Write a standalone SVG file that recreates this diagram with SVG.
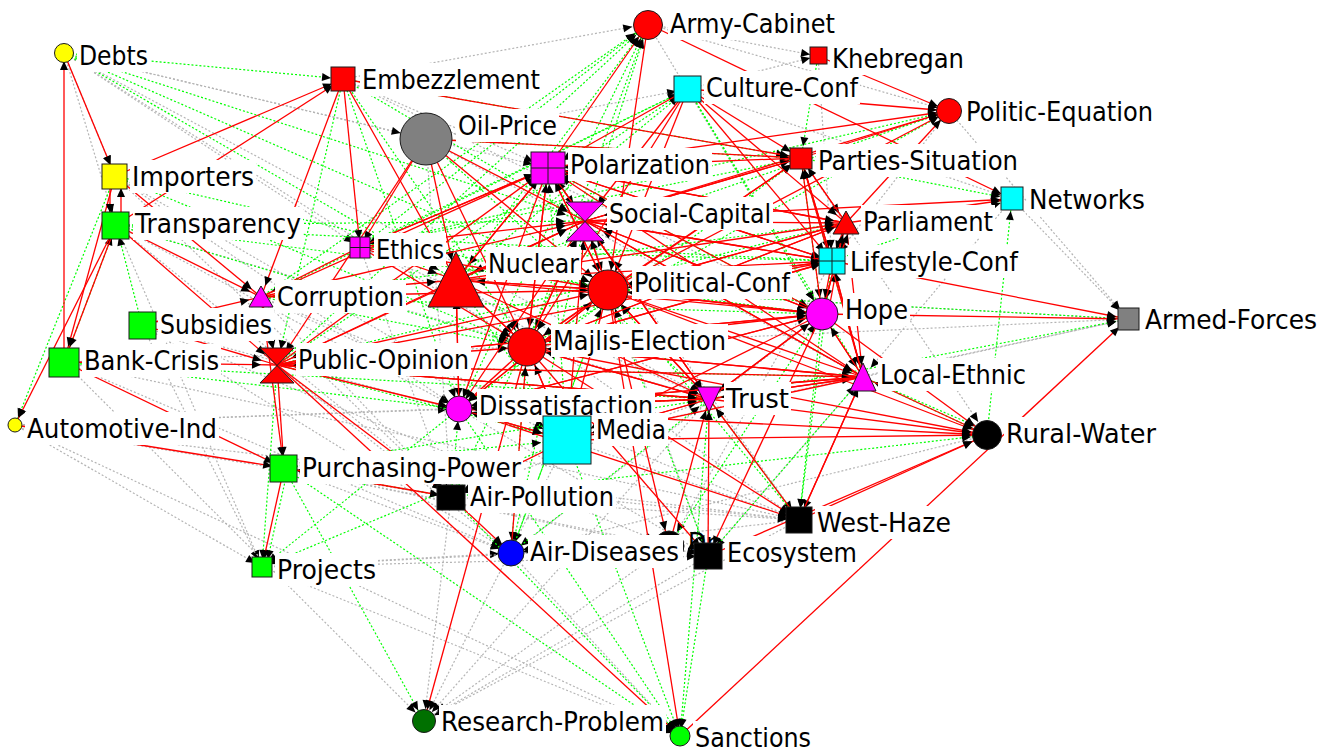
<svg xmlns="http://www.w3.org/2000/svg" width="1327" height="751" viewBox="0 0 1327 751">
<style>
.r{stroke:#f00;stroke-width:1.3}
.g{stroke:#0f0;stroke-width:1.2;stroke-dasharray:2 2}
.k{stroke:#b4b4b4;stroke-width:1.2;stroke-dasharray:2 2}
.a8{marker-end:url(#a8)}.a12{marker-end:url(#a12)}.a16{marker-end:url(#a16)}.a20{marker-end:url(#a20)}.a26{marker-end:url(#a26)}
.lb{fill:#fff}
text{font-family:"DejaVu Sans","Liberation Sans",sans-serif;font-size:27px;fill:#000}
.n{stroke:#1a1a1a;stroke-width:1}
.x{stroke:#1a1a1a;stroke-width:1;fill:none}
</style>
<defs>
<marker id="a8" markerUnits="userSpaceOnUse" orient="auto" refX="17" refY="0" markerWidth="1" markerHeight="1" overflow="visible"><path d="M0,-4 L9,0 L0,4z" fill="#000"/></marker>
<marker id="a12" markerUnits="userSpaceOnUse" orient="auto" refX="21" refY="0" markerWidth="1" markerHeight="1" overflow="visible"><path d="M0,-4 L9,0 L0,4z" fill="#000"/></marker>
<marker id="a16" markerUnits="userSpaceOnUse" orient="auto" refX="25" refY="0" markerWidth="1" markerHeight="1" overflow="visible"><path d="M0,-4 L9,0 L0,4z" fill="#000"/></marker>
<marker id="a20" markerUnits="userSpaceOnUse" orient="auto" refX="29" refY="0" markerWidth="1" markerHeight="1" overflow="visible"><path d="M0,-4 L9,0 L0,4z" fill="#000"/></marker>
<marker id="a26" markerUnits="userSpaceOnUse" orient="auto" refX="35" refY="0" markerWidth="1" markerHeight="1" overflow="visible"><path d="M0,-4 L9,0 L0,4z" fill="#000"/></marker>
</defs>
<rect width="1327" height="751" fill="#fff"/>
<g id="connectors">
<g id="gray-edges">
<line class="k a12" x1="64" y1="53" x2="116" y2="225"/>
<line class="k a20" x1="64" y1="53" x2="527" y2="347"/>
<line class="k a16" x1="64" y1="53" x2="548" y2="168"/>
<line class="k a8" x1="64" y1="53" x2="360" y2="247"/>
<line class="k a12" x1="64" y1="53" x2="709" y2="399"/>
<line class="k a26" x1="64" y1="53" x2="426" y2="139"/>
<line class="k a16" x1="343" y1="79" x2="648" y2="24"/>
<line class="k a8" x1="648" y1="24" x2="818" y2="56"/>
<line class="k a12" x1="648" y1="24" x2="949" y2="111"/>
<line class="k a8" x1="688" y1="89" x2="818" y2="56"/>
<line class="k a12" x1="949" y1="111" x2="1128" y2="319"/>
<line class="k a12" x1="1012" y1="199" x2="1128" y2="319"/>
<line class="k a12" x1="608" y1="290" x2="1128" y2="319"/>
<line class="k a12" x1="527" y1="347" x2="1128" y2="319"/>
<line class="k a12" x1="863" y1="377" x2="1128" y2="319"/>
<line class="k a12" x1="567" y1="440" x2="1128" y2="319"/>
<line class="k a8" x1="116" y1="225" x2="262" y2="567"/>
<line class="k a8" x1="142" y1="325" x2="262" y2="567"/>
<line class="k a8" x1="15" y1="425" x2="262" y2="567"/>
<line class="k a12" x1="64" y1="362" x2="424" y2="721"/>
<line class="k a12" x1="262" y1="567" x2="511" y2="553"/>
<line class="k a8" x1="262" y1="567" x2="680" y2="736"/>
<line class="k a12" x1="567" y1="440" x2="424" y2="721"/>
<line class="k a12" x1="709" y1="399" x2="424" y2="721"/>
<line class="k a12" x1="799" y1="520" x2="424" y2="721"/>
<line class="k a12" x1="451" y1="497" x2="424" y2="721"/>
<line class="k a12" x1="708" y1="556" x2="424" y2="721"/>
<line class="k a8" x1="15" y1="425" x2="680" y2="736"/>
<line class="k a12" x1="64" y1="362" x2="511" y2="553"/>
<line class="k a26" x1="115" y1="176" x2="567" y2="440"/>
<line class="k a12" x1="115" y1="176" x2="459" y2="409"/>
<line class="k a26" x1="142" y1="325" x2="567" y2="440"/>
<line class="k a20" x1="64" y1="362" x2="527" y2="347"/>
<line class="k a12" x1="15" y1="425" x2="459" y2="409"/>
<line class="k a12" x1="15" y1="425" x2="709" y2="399"/>
<line class="k a12" x1="261" y1="297" x2="451" y2="497"/>
<line class="k a12" x1="360" y1="247" x2="451" y2="497"/>
<line class="k a12" x1="426" y1="139" x2="451" y2="497"/>
<line class="k a12" x1="456" y1="280" x2="799" y2="520"/>
<line class="k a12" x1="548" y1="168" x2="799" y2="520"/>
<line class="k a16" x1="801" y1="158" x2="987" y2="435"/>
<line class="k a12" x1="818" y1="56" x2="832" y2="261"/>
<line class="k a12" x1="688" y1="89" x2="1012" y2="199"/>
<line class="k a12" x1="949" y1="111" x2="832" y2="261"/>
<line class="k a12" x1="585" y1="221" x2="708" y2="556"/>
<line class="k a12" x1="822" y1="314" x2="511" y2="553"/>
<line class="k a16" x1="832" y1="261" x2="669" y2="546"/>
<line class="k a12" x1="863" y1="377" x2="708" y2="556"/>
<line class="k a12" x1="709" y1="399" x2="451" y2="497"/>
<line class="k a12" x1="459" y1="409" x2="708" y2="556"/>
<line class="k a12" x1="284" y1="468" x2="799" y2="520"/>
<line class="k a12" x1="277" y1="365" x2="511" y2="553"/>
<line class="k a12" x1="116" y1="225" x2="459" y2="409"/>
<line class="k a16" x1="343" y1="79" x2="548" y2="168"/>
<line class="k a12" x1="426" y1="139" x2="688" y2="89"/>
<line class="k a12" x1="548" y1="168" x2="832" y2="261"/>
<line class="k a16" x1="648" y1="24" x2="822" y2="314"/>
<line class="k a12" x1="1012" y1="199" x2="863" y2="377"/>
<line class="k a12" x1="987" y1="435" x2="511" y2="553"/>
<line class="k a8" x1="511" y1="553" x2="680" y2="736"/>
<line class="k a12" x1="64" y1="53" x2="115" y2="176"/>
<line class="k a16" x1="669" y1="546" x2="424" y2="721"/>
<line class="k a12" x1="799" y1="520" x2="511" y2="553"/>
<line class="k a12" x1="15" y1="425" x2="451" y2="497"/>
<line class="k a12" x1="15" y1="425" x2="799" y2="520"/>
<line class="k a12" x1="64" y1="362" x2="799" y2="520"/>
<line class="k a12" x1="142" y1="325" x2="511" y2="553"/>
<line class="k a12" x1="116" y1="225" x2="451" y2="497"/>
<line class="k a12" x1="262" y1="567" x2="708" y2="556"/>
<line class="k a16" x1="262" y1="567" x2="669" y2="546"/>
<line class="k a16" x1="284" y1="468" x2="669" y2="546"/>
<line class="k a12" x1="284" y1="468" x2="708" y2="556"/>
<line class="k a16" x1="142" y1="325" x2="669" y2="546"/>
<line class="k a12" x1="115" y1="176" x2="451" y2="497"/>
<line class="k a12" x1="261" y1="297" x2="799" y2="520"/>
<line class="k a12" x1="360" y1="247" x2="709" y2="399"/>
<line class="k a12" x1="426" y1="139" x2="863" y2="377"/>
<line class="k a16" x1="343" y1="79" x2="822" y2="314"/>
<line class="k a12" x1="116" y1="225" x2="709" y2="399"/>
<line class="k a12" x1="451" y1="497" x2="799" y2="520"/>
<line class="k a12" x1="567" y1="440" x2="799" y2="520"/>
<line class="k a12" x1="284" y1="468" x2="511" y2="553"/>
<line class="k a26" x1="261" y1="297" x2="567" y2="440"/>
</g>
<g id="green-edges">
<line class="g a20" x1="64" y1="53" x2="585" y2="221"/>
<line class="g a20" x1="64" y1="53" x2="608" y2="290"/>
<line class="g a20" x1="64" y1="53" x2="456" y2="280"/>
<line class="g a8" x1="115" y1="176" x2="15" y2="425"/>
<line class="g a16" x1="343" y1="79" x2="277" y2="365"/>
<line class="g a12" x1="343" y1="79" x2="459" y2="409"/>
<line class="g a16" x1="360" y1="247" x2="648" y2="24"/>
<line class="g a16" x1="456" y1="280" x2="648" y2="24"/>
<line class="g a16" x1="261" y1="297" x2="648" y2="24"/>
<line class="g a16" x1="277" y1="365" x2="648" y2="24"/>
<line class="g a16" x1="527" y1="347" x2="648" y2="24"/>
<line class="g a16" x1="585" y1="221" x2="648" y2="24"/>
<line class="g a16" x1="459" y1="409" x2="648" y2="24"/>
<line class="g a12" x1="277" y1="365" x2="688" y2="89"/>
<line class="g a12" x1="456" y1="280" x2="688" y2="89"/>
<line class="g a12" x1="261" y1="297" x2="688" y2="89"/>
<line class="g a12" x1="360" y1="247" x2="688" y2="89"/>
<line class="g a12" x1="818" y1="56" x2="801" y2="158"/>
<line class="g a12" x1="456" y1="280" x2="949" y2="111"/>
<line class="g a12" x1="360" y1="247" x2="949" y2="111"/>
<line class="g a12" x1="527" y1="347" x2="949" y2="111"/>
<line class="g a12" x1="801" y1="158" x2="1012" y2="199"/>
<line class="g a12" x1="832" y1="261" x2="1012" y2="199"/>
<line class="g a12" x1="987" y1="435" x2="1012" y2="199"/>
<line class="g a12" x1="709" y1="399" x2="1128" y2="319"/>
<line class="g a16" x1="451" y1="497" x2="987" y2="435"/>
<line class="g a8" x1="277" y1="365" x2="262" y2="567"/>
<line class="g a8" x1="459" y1="409" x2="262" y2="567"/>
<line class="g a8" x1="567" y1="440" x2="262" y2="567"/>
<line class="g a8" x1="288" y1="468" x2="266" y2="567"/>
<line class="g a12" x1="284" y1="468" x2="424" y2="721"/>
<line class="g a8" x1="284" y1="468" x2="680" y2="736"/>
<line class="g a8" x1="451" y1="497" x2="680" y2="736"/>
<line class="g a8" x1="459" y1="409" x2="680" y2="736"/>
<line class="g a8" x1="567" y1="440" x2="680" y2="736"/>
<line class="g a8" x1="708" y1="556" x2="680" y2="736"/>
<line class="g a8" x1="709" y1="399" x2="680" y2="736"/>
<line class="g a12" x1="832" y1="261" x2="799" y2="520"/>
<line class="g a12" x1="822" y1="314" x2="799" y2="520"/>
<line class="g a12" x1="608" y1="290" x2="511" y2="553"/>
<line class="g a12" x1="585" y1="221" x2="511" y2="553"/>
<line class="g a12" x1="527" y1="347" x2="511" y2="553"/>
<line class="g a12" x1="451" y1="497" x2="284" y2="468"/>
<line class="g a12" x1="709" y1="399" x2="459" y2="409"/>
<line class="g a12" x1="142" y1="325" x2="116" y2="225"/>
<line class="g a12" x1="64" y1="362" x2="116" y2="225"/>
<line class="g a20" x1="116" y1="225" x2="585" y2="221"/>
<line class="g a20" x1="116" y1="225" x2="527" y2="347"/>
<line class="g a20" x1="115" y1="176" x2="608" y2="290"/>
<line class="g a20" x1="115" y1="176" x2="527" y2="347"/>
<line class="g a20" x1="343" y1="79" x2="585" y2="221"/>
<line class="g a20" x1="343" y1="79" x2="527" y2="347"/>
<line class="g a12" x1="426" y1="139" x2="709" y2="399"/>
<line class="g a16" x1="548" y1="168" x2="822" y2="314"/>
<line class="g a16" x1="688" y1="89" x2="822" y2="314"/>
<line class="g a12" x1="688" y1="89" x2="863" y2="377"/>
<line class="g a16" x1="801" y1="158" x2="822" y2="314"/>
<line class="g a12" x1="801" y1="158" x2="863" y2="377"/>
<line class="g a12" x1="277" y1="365" x2="863" y2="377"/>
<line class="g a12" x1="277" y1="365" x2="709" y2="399"/>
<line class="g a20" x1="261" y1="297" x2="527" y2="347"/>
<line class="g a12" x1="64" y1="362" x2="459" y2="409"/>
<line class="g a26" x1="277" y1="365" x2="567" y2="440"/>
<line class="g a26" x1="456" y1="280" x2="567" y2="440"/>
<line class="g a12" x1="608" y1="290" x2="1128" y2="319"/>
<line class="g a20" x1="799" y1="520" x2="608" y2="290"/>
<line class="g a20" x1="708" y1="556" x2="608" y2="290"/>
<line class="g a12" x1="511" y1="553" x2="709" y2="399"/>
<line class="g a12" x1="987" y1="435" x2="863" y2="377"/>
<line class="g a12" x1="451" y1="497" x2="459" y2="409"/>
<line class="g a12" x1="863" y1="377" x2="987" y2="431"/>
<line class="g a12" x1="64" y1="53" x2="343" y2="79"/>
<line class="g a16" x1="343" y1="79" x2="801" y2="158"/>
<line class="g a12" x1="360" y1="247" x2="832" y2="261"/>
<line class="g a16" x1="261" y1="297" x2="822" y2="314"/>
<line class="g a12" x1="277" y1="365" x2="846" y2="223"/>
<line class="g a12" x1="459" y1="409" x2="801" y2="158"/>
<line class="g a16" x1="567" y1="440" x2="548" y2="168"/>
<line class="g a20" x1="451" y1="497" x2="585" y2="221"/>
<line class="g a20" x1="511" y1="553" x2="608" y2="290"/>
<line class="g a12" x1="284" y1="468" x2="709" y2="399"/>
<line class="g a26" x1="284" y1="468" x2="567" y2="440"/>
<line class="g a12" x1="116" y1="225" x2="832" y2="261"/>
<line class="g a16" x1="116" y1="225" x2="822" y2="314"/>
<line class="g a12" x1="64" y1="362" x2="709" y2="399"/>
<line class="g a12" x1="426" y1="139" x2="801" y2="158"/>
<line class="g a12" x1="360" y1="247" x2="801" y2="158"/>
<line class="g a12" x1="261" y1="297" x2="846" y2="223"/>
<line class="g a12" x1="799" y1="520" x2="709" y2="399"/>
<line class="g a12" x1="708" y1="556" x2="863" y2="377"/>
<line class="g a12" x1="669" y1="546" x2="822" y2="314"/>
</g>
<g id="red-edges">
<line class="r a8" x1="64" y1="362" x2="64" y2="53"/>
<line class="r a12" x1="64" y1="53" x2="115" y2="176"/>
<line class="r a8" x1="116" y1="225" x2="15" y2="425"/>
<line class="r a16" x1="116" y1="225" x2="64" y2="362"/>
<line class="r a16" x1="115" y1="176" x2="64" y2="362"/>
<line class="r a12" x1="115" y1="176" x2="343" y2="79"/>
<line class="r a12" x1="116" y1="225" x2="343" y2="79"/>
<line class="r a8" x1="343" y1="79" x2="360" y2="247"/>
<line class="r a20" x1="343" y1="79" x2="456" y2="280"/>
<line class="r a12" x1="343" y1="79" x2="801" y2="158"/>
<line class="r a12" x1="110" y1="176" x2="110" y2="225"/>
<line class="r a12" x1="121" y1="225" x2="121" y2="176"/>
<line class="r a12" x1="116" y1="225" x2="261" y2="297"/>
<line class="r a16" x1="116" y1="225" x2="277" y2="365"/>
<line class="r a16" x1="142" y1="325" x2="277" y2="365"/>
<line class="r a16" x1="64" y1="362" x2="277" y2="365"/>
<line class="r a12" x1="64" y1="362" x2="284" y2="468"/>
<line class="r a12" x1="15" y1="425" x2="284" y2="468"/>
<line class="r a16" x1="261" y1="297" x2="277" y2="365"/>
<line class="r a12" x1="277" y1="365" x2="284" y2="468"/>
<line class="r a12" x1="284" y1="468" x2="451" y2="497"/>
<line class="r a20" x1="277" y1="365" x2="527" y2="347"/>
<line class="r a12" x1="277" y1="365" x2="459" y2="409"/>
<line class="r a20" x1="261" y1="297" x2="456" y2="280"/>
<line class="r a20" x1="360" y1="247" x2="456" y2="280"/>
<line class="r a20" x1="426" y1="139" x2="456" y2="280"/>
<line class="r a20" x1="426" y1="139" x2="585" y2="221"/>
<line class="r a20" x1="426" y1="139" x2="527" y2="347"/>
<line class="r a20" x1="426" y1="139" x2="608" y2="290"/>
<line class="r a12" x1="426" y1="139" x2="801" y2="158"/>
<line class="r a16" x1="548" y1="168" x2="648" y2="24"/>
<line class="r a20" x1="648" y1="24" x2="608" y2="290"/>
<line class="r a12" x1="648" y1="24" x2="1012" y2="199"/>
<line class="r a16" x1="688" y1="89" x2="548" y2="168"/>
<line class="r a20" x1="688" y1="89" x2="585" y2="221"/>
<line class="r a20" x1="688" y1="89" x2="608" y2="290"/>
<line class="r a12" x1="688" y1="89" x2="801" y2="158"/>
<line class="r a20" x1="688" y1="89" x2="527" y2="347"/>
<line class="r a12" x1="688" y1="89" x2="832" y2="261"/>
<line class="r a12" x1="818" y1="56" x2="949" y2="111"/>
<line class="r a12" x1="801" y1="158" x2="949" y2="111"/>
<line class="r a12" x1="585" y1="221" x2="949" y2="111"/>
<line class="r a12" x1="548" y1="168" x2="949" y2="111"/>
<line class="r a12" x1="608" y1="290" x2="949" y2="111"/>
<line class="r a12" x1="846" y1="223" x2="949" y2="111"/>
<line class="r a12" x1="585" y1="221" x2="801" y2="158"/>
<line class="r a12" x1="608" y1="290" x2="801" y2="158"/>
<line class="r a12" x1="527" y1="347" x2="801" y2="158"/>
<line class="r a12" x1="801" y1="158" x2="846" y2="223"/>
<line class="r a20" x1="548" y1="168" x2="585" y2="221"/>
<line class="r a20" x1="585" y1="221" x2="456" y2="280"/>
<line class="r a20" x1="585" y1="221" x2="608" y2="290"/>
<line class="r a20" x1="585" y1="221" x2="527" y2="347"/>
<line class="r a12" x1="585" y1="221" x2="846" y2="223"/>
<line class="r a12" x1="585" y1="221" x2="832" y2="261"/>
<line class="r a16" x1="585" y1="221" x2="822" y2="314"/>
<line class="r a12" x1="585" y1="221" x2="1012" y2="199"/>
<line class="r a20" x1="548" y1="168" x2="608" y2="290"/>
<line class="r a20" x1="548" y1="168" x2="527" y2="347"/>
<line class="r a8" x1="548" y1="168" x2="360" y2="247"/>
<line class="r a20" x1="456" y1="280" x2="608" y2="290"/>
<line class="r a20" x1="456" y1="280" x2="527" y2="347"/>
<line class="r a16" x1="456" y1="280" x2="277" y2="365"/>
<line class="r a12" x1="456" y1="280" x2="459" y2="409"/>
<line class="r a20" x1="608" y1="290" x2="527" y2="347"/>
<line class="r a16" x1="608" y1="290" x2="822" y2="314"/>
<line class="r a12" x1="608" y1="290" x2="832" y2="261"/>
<line class="r a12" x1="608" y1="290" x2="846" y2="223"/>
<line class="r a12" x1="608" y1="290" x2="709" y2="399"/>
<line class="r a12" x1="608" y1="290" x2="863" y2="377"/>
<line class="r a16" x1="608" y1="290" x2="987" y2="435"/>
<line class="r a12" x1="527" y1="347" x2="709" y2="399"/>
<line class="r a12" x1="527" y1="347" x2="459" y2="409"/>
<line class="r a26" x1="527" y1="347" x2="567" y2="440"/>
<line class="r a16" x1="527" y1="347" x2="822" y2="314"/>
<line class="r a12" x1="527" y1="347" x2="863" y2="377"/>
<line class="r a16" x1="527" y1="347" x2="987" y2="435"/>
<line class="r a12" x1="527" y1="347" x2="799" y2="520"/>
<line class="r a12" x1="527" y1="347" x2="708" y2="556"/>
<line class="r a16" x1="832" y1="261" x2="822" y2="314"/>
<line class="r a12" x1="832" y1="261" x2="1128" y2="319"/>
<line class="r a12" x1="822" y1="314" x2="1128" y2="319"/>
<line class="r a12" x1="822" y1="314" x2="863" y2="377"/>
<line class="r a16" x1="822" y1="314" x2="987" y2="435"/>
<line class="r a12" x1="822" y1="314" x2="709" y2="399"/>
<line class="r a16" x1="863" y1="377" x2="987" y2="435"/>
<line class="r a20" x1="863" y1="377" x2="527" y2="347"/>
<line class="r a16" x1="709" y1="399" x2="987" y2="435"/>
<line class="r a20" x1="709" y1="399" x2="608" y2="290"/>
<line class="r a20" x1="459" y1="409" x2="608" y2="290"/>
<line class="r a20" x1="567" y1="440" x2="527" y2="347"/>
<line class="r a12" x1="567" y1="440" x2="709" y2="399"/>
<line class="r a16" x1="567" y1="440" x2="987" y2="435"/>
<line class="r a16" x1="459" y1="409" x2="987" y2="435"/>
<line class="r a12" x1="680" y1="736" x2="1128" y2="319"/>
<line class="r a8" x1="277" y1="365" x2="680" y2="736"/>
<line class="r a12" x1="527" y1="347" x2="424" y2="721"/>
<line class="r a8" x1="608" y1="290" x2="680" y2="736"/>
<line class="r a8" x1="284" y1="468" x2="262" y2="567"/>
<line class="r a12" x1="451" y1="497" x2="511" y2="553"/>
<line class="r a12" x1="277" y1="365" x2="451" y2="497"/>
<line class="r a12" x1="459" y1="409" x2="799" y2="520"/>
<line class="r a12" x1="863" y1="377" x2="799" y2="520"/>
<line class="r a12" x1="822" y1="314" x2="708" y2="556"/>
<line class="r a16" x1="608" y1="290" x2="669" y2="546"/>
<line class="r a20" x1="277" y1="365" x2="608" y2="290"/>
<line class="r a20" x1="261" y1="297" x2="608" y2="290"/>
<line class="r a20" x1="360" y1="247" x2="608" y2="290"/>
<line class="r a12" x1="360" y1="247" x2="261" y2="297"/>
<line class="r a8" x1="426" y1="139" x2="360" y2="247"/>
<line class="r a16" x1="426" y1="139" x2="277" y2="365"/>
<line class="r a12" x1="343" y1="79" x2="261" y2="297"/>
<line class="r a20" x1="456" y1="280" x2="585" y2="221"/>
<line class="r a20" x1="548" y1="168" x2="456" y2="280"/>
<line class="r a12" x1="846" y1="223" x2="832" y2="261"/>
<line class="r a12" x1="688" y1="89" x2="949" y2="111"/>
<line class="r a12" x1="846" y1="223" x2="1012" y2="199"/>
<line class="r a12" x1="801" y1="158" x2="832" y2="261"/>
<line class="r a16" x1="708" y1="556" x2="987" y2="435"/>
<line class="r a16" x1="799" y1="520" x2="987" y2="435"/>
<line class="r a20" x1="709" y1="399" x2="527" y2="347"/>
<line class="r a16" x1="709" y1="399" x2="277" y2="365"/>
<line class="r a16" x1="863" y1="377" x2="277" y2="365"/>
<line class="r a16" x1="822" y1="314" x2="277" y2="365"/>
<line class="r a20" x1="832" y1="261" x2="527" y2="347"/>
<line class="r a20" x1="846" y1="223" x2="527" y2="347"/>
<line class="r a12" x1="567" y1="440" x2="459" y2="409"/>
<line class="r a12" x1="567" y1="440" x2="451" y2="497"/>
<line class="r a12" x1="261" y1="297" x2="284" y2="468"/>
<line class="r a12" x1="142" y1="325" x2="261" y2="297"/>
<line class="r a12" x1="115" y1="176" x2="261" y2="297"/>
<line class="r a16" x1="801" y1="158" x2="548" y2="168"/>
<line class="r a16" x1="832" y1="261" x2="548" y2="168"/>
<line class="r a16" x1="822" y1="314" x2="548" y2="168"/>
<line class="r a16" x1="863" y1="377" x2="548" y2="168"/>
<line class="r a16" x1="709" y1="399" x2="548" y2="168"/>
<line class="r a16" x1="846" y1="223" x2="548" y2="168"/>
<line class="r a20" x1="801" y1="158" x2="585" y2="221"/>
<line class="r a20" x1="832" y1="261" x2="585" y2="221"/>
<line class="r a20" x1="822" y1="314" x2="585" y2="221"/>
<line class="r a20" x1="863" y1="377" x2="585" y2="221"/>
<line class="r a20" x1="709" y1="399" x2="585" y2="221"/>
<line class="r a20" x1="567" y1="440" x2="585" y2="221"/>
<line class="r a20" x1="822" y1="314" x2="608" y2="290"/>
<line class="r a20" x1="832" y1="261" x2="608" y2="290"/>
<line class="r a20" x1="846" y1="223" x2="608" y2="290"/>
<line class="r a16" x1="863" y1="377" x2="822" y2="314"/>
<line class="r a16" x1="709" y1="399" x2="822" y2="314"/>
<line class="r a16" x1="459" y1="409" x2="822" y2="314"/>
<line class="r a16" x1="846" y1="223" x2="822" y2="314"/>
<line class="r a12" x1="832" y1="261" x2="863" y2="377"/>
<line class="r a12" x1="846" y1="223" x2="863" y2="377"/>
<line class="r a12" x1="585" y1="221" x2="863" y2="377"/>
<line class="r a12" x1="709" y1="399" x2="863" y2="377"/>
<line class="r a12" x1="459" y1="409" x2="863" y2="377"/>
<line class="r a12" x1="828" y1="314" x2="838" y2="261"/>
<line class="r a12" x1="863" y1="377" x2="832" y2="261"/>
<line class="r a12" x1="548" y1="168" x2="832" y2="261"/>
<line class="r a12" x1="548" y1="168" x2="846" y2="223"/>
<line class="r a12" x1="838" y1="261" x2="852" y2="223"/>
<line class="r a12" x1="822" y1="314" x2="846" y2="223"/>
<line class="r a12" x1="688" y1="89" x2="846" y2="223"/>
<line class="r a12" x1="548" y1="168" x2="709" y2="399"/>
<line class="r a12" x1="456" y1="280" x2="709" y2="399"/>
<line class="r a12" x1="863" y1="377" x2="709" y2="399"/>
<line class="r a12" x1="459" y1="409" x2="709" y2="399"/>
<line class="r a12" x1="277" y1="365" x2="709" y2="399"/>
<line class="r a12" x1="585" y1="221" x2="459" y2="409"/>
<line class="r a12" x1="608" y1="290" x2="459" y2="409"/>
<line class="r a12" x1="709" y1="399" x2="459" y2="409"/>
<line class="r a12" x1="548" y1="168" x2="459" y2="409"/>
<line class="r a12" x1="822" y1="314" x2="459" y2="409"/>
<line class="r a12" x1="863" y1="377" x2="459" y2="409"/>
<line class="r a16" x1="456" y1="280" x2="548" y2="168"/>
<line class="r a16" x1="527" y1="347" x2="548" y2="168"/>
<line class="r a16" x1="608" y1="290" x2="548" y2="168"/>
<line class="r a20" x1="527" y1="347" x2="585" y2="221"/>
<line class="r a20" x1="608" y1="290" x2="585" y2="221"/>
<line class="r a20" x1="527" y1="347" x2="456" y2="280"/>
<line class="r a20" x1="608" y1="290" x2="456" y2="280"/>
<line class="r a20" x1="459" y1="409" x2="456" y2="280"/>
<line class="r a12" x1="832" y1="261" x2="801" y2="158"/>
<line class="r a12" x1="822" y1="314" x2="801" y2="158"/>
<line class="r a12" x1="863" y1="377" x2="801" y2="158"/>
<line class="r a12" x1="846" y1="223" x2="801" y2="158"/>
<line class="r a12" x1="527" y1="347" x2="832" y2="261"/>
<line class="r a12" x1="527" y1="347" x2="846" y2="223"/>
<line class="r a12" x1="456" y1="280" x2="846" y2="223"/>
<line class="r a12" x1="456" y1="280" x2="832" y2="261"/>
<line class="r a16" x1="456" y1="280" x2="822" y2="314"/>
<line class="r a16" x1="277" y1="365" x2="822" y2="314"/>
<line class="r a12" x1="277" y1="365" x2="832" y2="261"/>
<line class="r a20" x1="261" y1="297" x2="585" y2="221"/>
<line class="r a16" x1="261" y1="297" x2="548" y2="168"/>
<line class="r a20" x1="360" y1="247" x2="585" y2="221"/>
<line class="r a16" x1="360" y1="247" x2="548" y2="168"/>
<line class="r a20" x1="360" y1="247" x2="527" y2="347"/>
<line class="r a20" x1="277" y1="365" x2="585" y2="221"/>
<line class="r a16" x1="277" y1="365" x2="548" y2="168"/>
<line class="r a26" x1="709" y1="399" x2="567" y2="440"/>
<line class="r a26" x1="863" y1="377" x2="567" y2="440"/>
<line class="r a26" x1="822" y1="314" x2="567" y2="440"/>
<line class="r a26" x1="459" y1="409" x2="567" y2="440"/>
<line class="r a26" x1="608" y1="290" x2="567" y2="440"/>
<line class="r a12" x1="799" y1="520" x2="709" y2="399"/>
<line class="r a12" x1="708" y1="556" x2="709" y2="399"/>
<line class="r a12" x1="669" y1="546" x2="709" y2="399"/>
<line class="r a20" x1="511" y1="553" x2="527" y2="347"/>
<line class="r a12" x1="799" y1="520" x2="863" y2="377"/>
</g>
</g>
<g id="nodes">
<g id="n-debts"><rect class="lb" x="77" y="39" width="73" height="33"/><text x="79" y="65" textLength="69" lengthAdjust="spacingAndGlyphs">Debts</text><circle class="n" cx="64" cy="53" r="9.5" fill="#ff0"/></g>
<g id="n-embezzlement"><rect class="lb" x="360" y="63" width="182" height="33"/><text x="362" y="89" textLength="178" lengthAdjust="spacingAndGlyphs">Embezzlement</text><rect class="n" x="331" y="67" width="24" height="24" fill="#f00"/></g>
<g id="n-oil-price"><rect class="lb" x="456" y="109" width="103" height="33"/><text x="458" y="135" textLength="99" lengthAdjust="spacingAndGlyphs">Oil-Price</text><circle class="n" cx="426" cy="139" r="26" fill="#808080"/></g>
<g id="n-army-cabinet"><rect class="lb" x="668" y="7" width="169" height="33"/><text x="670" y="33" textLength="165" lengthAdjust="spacingAndGlyphs">Army-Cabinet</text><circle class="n" cx="648" cy="25" r="14.5" fill="#f00"/></g>
<g id="n-khebregan"><rect class="lb" x="830" y="42" width="136" height="33"/><text x="832" y="68" textLength="132" lengthAdjust="spacingAndGlyphs">Khebregan</text><rect class="n" x="810" y="47" width="17" height="17" fill="#f00"/></g>
<g id="n-culture-conf"><rect class="lb" x="704" y="71" width="156" height="33"/><text x="706" y="97" textLength="152" lengthAdjust="spacingAndGlyphs">Culture-Conf</text><rect class="n" x="674" y="76" width="27" height="26" fill="#0ff"/></g>
<g id="n-politic-equation"><rect class="lb" x="964" y="95" width="191" height="33"/><text x="966" y="121" textLength="187" lengthAdjust="spacingAndGlyphs">Politic-Equation</text><circle class="n" cx="949" cy="111" r="12.5" fill="#f00"/></g>
<g id="n-polarization"><rect class="lb" x="568" y="148" width="144" height="33"/><text x="570" y="174" textLength="140" lengthAdjust="spacingAndGlyphs">Polarization</text><rect class="n" x="531" y="152" width="34" height="32" fill="#f0f"/><path class="x" d="M548,152V184M531,168H565"/></g>
<g id="n-parties-situation"><rect class="lb" x="816" y="144" width="204" height="33"/><text x="818" y="170" textLength="200" lengthAdjust="spacingAndGlyphs">Parties-Situation</text><rect class="n" x="790" y="148" width="22" height="21" fill="#f00"/></g>
<g id="n-networks"><rect class="lb" x="1027" y="183" width="120" height="33"/><text x="1029" y="209" textLength="116" lengthAdjust="spacingAndGlyphs">Networks</text><rect class="n" x="1001" y="187" width="22" height="23" fill="#0ff"/></g>
<g id="n-importers"><rect class="lb" x="130" y="160" width="126" height="33"/><text x="132" y="186" textLength="122" lengthAdjust="spacingAndGlyphs">Importers</text><rect class="n" x="102" y="164" width="25" height="25" fill="#ff0"/></g>
<g id="n-transparency"><rect class="lb" x="133" y="207" width="170" height="33"/><text x="135" y="233" textLength="166" lengthAdjust="spacingAndGlyphs">Transparency</text><rect class="n" x="102" y="212" width="27" height="27" fill="#0f0"/></g>
<g id="n-social-capital"><rect class="lb" x="607" y="197" width="166" height="33"/><text x="609" y="223" textLength="162" lengthAdjust="spacingAndGlyphs">Social-Capital</text><polygon class="n" points="566,202 604,202 566,241 604,241" fill="#f0f"/></g>
<g id="n-parliament"><rect class="lb" x="861" y="205" width="134" height="33"/><text x="863" y="231" textLength="130" lengthAdjust="spacingAndGlyphs">Parliament</text><polygon class="n" points="846,211 859,234 833,234" fill="#f00"/></g>
<g id="n-ethics"><rect class="lb" x="374" y="233" width="72" height="33"/><text x="376" y="259" textLength="68" lengthAdjust="spacingAndGlyphs">Ethics</text><rect class="n" x="350" y="237" width="20" height="21" fill="#f0f"/><path class="x" d="M360,237V258M350,247.5H370"/></g>
<g id="n-nuclear"><rect class="lb" x="486" y="247" width="95" height="33"/><text x="488" y="273" textLength="91" lengthAdjust="spacingAndGlyphs">Nuclear</text><polygon class="n" points="456,252 484,307 428,307" fill="#f00"/></g>
<g id="n-lifestyle-conf"><rect class="lb" x="848" y="245" width="172" height="33"/><text x="850" y="271" textLength="168" lengthAdjust="spacingAndGlyphs">Lifestyle-Conf</text><rect class="n" x="819" y="248" width="26" height="26" fill="#0ff"/><path class="x" d="M832,248V274M819,261H845"/></g>
<g id="n-corruption"><rect class="lb" x="275" y="280" width="131" height="33"/><text x="277" y="306" textLength="127" lengthAdjust="spacingAndGlyphs">Corruption</text><polygon class="n" points="261,286 273,307 249,307" fill="#f0f"/></g>
<g id="n-political-conf"><rect class="lb" x="632" y="266" width="160" height="33"/><text x="634" y="292" textLength="156" lengthAdjust="spacingAndGlyphs">Political-Conf</text><circle class="n" cx="608" cy="290" r="20" fill="#f00"/></g>
<g id="n-subsidies"><rect class="lb" x="158" y="308" width="116" height="33"/><text x="160" y="334" textLength="112" lengthAdjust="spacingAndGlyphs">Subsidies</text><rect class="n" x="129" y="312" width="27" height="27" fill="#0f0"/></g>
<g id="n-hope"><rect class="lb" x="843" y="293" width="67" height="33"/><text x="845" y="319" textLength="63" lengthAdjust="spacingAndGlyphs">Hope</text><circle class="n" cx="822" cy="314" r="16" fill="#f0f"/></g>
<g id="n-armed-forces"><rect class="lb" x="1143" y="303" width="176" height="33"/><text x="1145" y="329" textLength="172" lengthAdjust="spacingAndGlyphs">Armed-Forces</text><rect class="n" x="1118" y="308" width="21" height="22" fill="#808080"/></g>
<g id="n-bank-crisis"><rect class="lb" x="82" y="344" width="139" height="33"/><text x="84" y="370" textLength="135" lengthAdjust="spacingAndGlyphs">Bank-Crisis</text><rect class="n" x="49" y="348" width="30" height="29" fill="#0f0"/></g>
<g id="n-public-opinion"><rect class="lb" x="296" y="343" width="175" height="33"/><text x="298" y="369" textLength="171" lengthAdjust="spacingAndGlyphs">Public-Opinion</text><polygon class="n" points="260,348 294,348 260,383 294,383" fill="#f00"/></g>
<g id="n-majlis-election"><rect class="lb" x="551" y="324" width="177" height="33"/><text x="553" y="350" textLength="173" lengthAdjust="spacingAndGlyphs">Majlis-Election</text><circle class="n" cx="527" cy="347" r="19" fill="#f00"/></g>
<g id="n-local-ethnic"><rect class="lb" x="878" y="358" width="150" height="33"/><text x="880" y="384" textLength="146" lengthAdjust="spacingAndGlyphs">Local-Ethnic</text><polygon class="n" points="863,363 876,391 850,391" fill="#f0f"/></g>
<g id="n-trust"><rect class="lb" x="724" y="382" width="67" height="33"/><text x="726" y="408" textLength="63" lengthAdjust="spacingAndGlyphs">Trust</text><polygon class="n" points="697,387 721,387 709,412" fill="#f0f"/></g>
<g id="n-dissatisfaction"><rect class="lb" x="477" y="389" width="178" height="33"/><text x="479" y="415" textLength="174" lengthAdjust="spacingAndGlyphs">Dissatisfaction</text><circle class="n" cx="459" cy="409" r="13" fill="#f0f"/></g>
<g id="n-media"><rect class="lb" x="594" y="413" width="74" height="33"/><text x="596" y="439" textLength="70" lengthAdjust="spacingAndGlyphs">Media</text><rect class="n" x="543" y="416" width="48" height="48" fill="#0ff"/></g>
<g id="n-automotive-ind"><rect class="lb" x="25" y="412" width="194" height="33"/><text x="27" y="438" textLength="190" lengthAdjust="spacingAndGlyphs">Automotive-Ind</text><circle class="n" cx="15" cy="425" r="7" fill="#ff0"/></g>
<g id="n-rural-water"><rect class="lb" x="1004" y="417" width="154" height="33"/><text x="1006" y="443" textLength="150" lengthAdjust="spacingAndGlyphs">Rural-Water</text><circle class="n" cx="987" cy="435" r="14.5" fill="#000"/></g>
<g id="n-purchasing-power"><rect class="lb" x="300" y="451" width="223" height="33"/><text x="302" y="477" textLength="219" lengthAdjust="spacingAndGlyphs">Purchasing-Power</text><rect class="n" x="270" y="455" width="27" height="27" fill="#0f0"/></g>
<g id="n-air-pollution"><rect class="lb" x="468" y="480" width="148" height="33"/><text x="470" y="506" textLength="144" lengthAdjust="spacingAndGlyphs">Air-Pollution</text><rect class="n" x="437" y="485" width="28" height="25" fill="#000"/></g>
<g id="n-west-haze"><rect class="lb" x="815" y="506" width="138" height="33"/><text x="817" y="532" textLength="134" lengthAdjust="spacingAndGlyphs">West-Haze</text><rect class="n" x="786" y="507" width="26" height="26" fill="#000"/></g>
<g id="n-drought"><text x="688" y="552" textLength="28" lengthAdjust="spacingAndGlyphs">Dr</text><circle class="n" cx="669" cy="546" r="15" fill="#000"/></g>
<g id="n-air-diseases"><rect class="lb" x="528" y="535" width="155" height="33"/><text x="530" y="561" textLength="149" lengthAdjust="spacingAndGlyphs">Air-Diseases</text><circle class="n" cx="511" cy="553" r="13" fill="#00f"/></g>
<g id="n-ecosystem"><rect class="lb" x="725" y="536" width="134" height="33"/><text x="727" y="562" textLength="130" lengthAdjust="spacingAndGlyphs">Ecosystem</text><rect class="n" x="694" y="543" width="28" height="26" fill="#000"/></g>
<g id="n-projects"><rect class="lb" x="275" y="553" width="103" height="33"/><text x="277" y="579" textLength="99" lengthAdjust="spacingAndGlyphs">Projects</text><rect class="n" x="252" y="557" width="20" height="20" fill="#0f0"/></g>
<g id="n-research-problem"><rect class="lb" x="439" y="705" width="227" height="33"/><text x="441" y="731" textLength="223" lengthAdjust="spacingAndGlyphs">Research-Problem</text><circle class="n" cx="424" cy="721" r="11.5" fill="#007000"/></g>
<g id="n-sanctions"><rect class="lb" x="693" y="721" width="120" height="33"/><text x="695" y="747" textLength="116" lengthAdjust="spacingAndGlyphs">Sanctions</text><circle class="n" cx="680" cy="736" r="10" fill="#0f0"/></g>
</g>
</svg>
